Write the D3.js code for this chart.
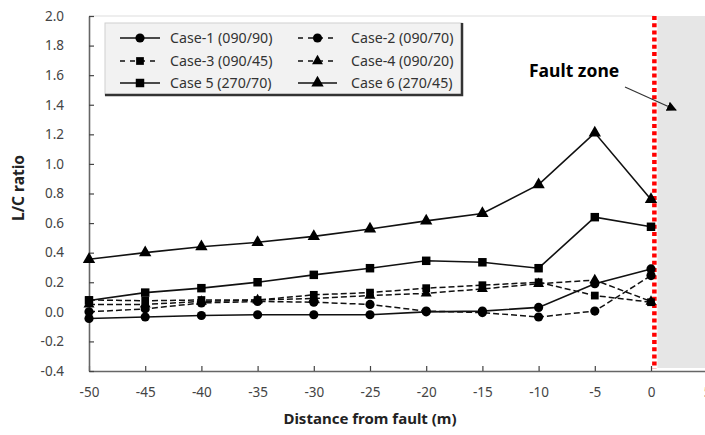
<!DOCTYPE html>
<html>
<head>
<meta charset="utf-8">
<script src="https://cdn.jsdelivr.net/npm/d3@7"></script>
<style>
  body { margin: 0; background: #fff; }
  text { font-family: "Noto Sans", "Open Sans", sans-serif; }
</style>
</head>
<body>
<div id="chart"></div>
<script>
// distances from the fault (m)
var distances = [-50, -45, -40, -35, -30, -25, -20, -15, -10, -5, 0];
var xTicks = [-50, -45, -40, -35, -30, -25, -20, -15, -10, -5, 0, 5];
var yTicks = [-0.4, -0.2, 0.0, 0.2, 0.4, 0.6, 0.8, 1.0, 1.2, 1.4, 1.6, 1.8, 2.0];

var caseNames = ["Case-1 (090/90)", "Case-2 (090/70)", "Case-3 (090/45)",
                 "Case-4 (090/20)", "Case 5 (270/70)", "Case 6 (270/45)"];
var case1 = [-0.045, -0.035, -0.025, -0.02, -0.02, -0.02, 0.00, 0.005, 0.03, 0.19, 0.29];
var case2 = [0.00, 0.02, 0.06, 0.07, 0.065, 0.05, 0.005, -0.005, -0.035, 0.005, 0.245];
var case3 = [0.08, 0.075, 0.08, 0.08, 0.115, 0.13, 0.16, 0.18, 0.20, 0.11, 0.065];
var case4 = [0.05, 0.05, 0.07, 0.08, 0.09, 0.11, 0.125, 0.155, 0.19, 0.215, 0.07];
var case5 = [0.077, 0.13, 0.16, 0.20, 0.25, 0.295, 0.345, 0.335, 0.295, 0.64, 0.575];
var case6 = [0.355, 0.40, 0.44, 0.47, 0.51, 0.56, 0.615, 0.665, 0.86, 1.21, 0.76];

var faultX = 0.3;

var allCases = [
  { name: caseNames[0], values: case1, symbol: d3.symbolCircle, size: 66, dashed: false },
  { name: caseNames[1], values: case2, symbol: d3.symbolCircle, size: 66, dashed: true },
  { name: caseNames[2], values: case3, symbol: d3.symbolSquare, size: 60, dashed: true },
  { name: caseNames[3], values: case4, symbol: d3.symbolTriangle, size: 52, dashed: true },
  { name: caseNames[4], values: case5, symbol: d3.symbolSquare, size: 72, dashed: false },
  { name: caseNames[5], values: case6, symbol: d3.symbolTriangle, size: 66, dashed: false }
];

var width = 705, height = 435;

var svg = d3.select("#chart")
  .append("svg")
  .attr("width", width)
  .attr("height", height);

var x = d3.scaleLinear().domain([-50, 5]).range([89, 707.2]);
var y = d3.scaleLinear().domain([-0.4, 2.0]).range([371, 16]);

// plain hyphen instead of the unicode minus
function hyphen(fmt) {
  var f = d3.format(fmt);
  return function(d) { return f(d).replace("\u2212", "-"); };
}

// fault zone shading
svg.append("rect")
  .attr("x", x(faultX) + 3)
  .attr("y", y(2.0))
  .attr("width", x(5) - x(faultX))
  .attr("height", y(-0.4) - y(2.0) - 3)
  .attr("fill", "#e6e6e6");

// top border of the plot area
svg.append("line")
  .attr("x1", x(-50)).attr("x2", x(faultX))
  .attr("y1", y(2.0)).attr("y2", y(2.0))
  .attr("stroke", "#e8e8e8")
  .attr("stroke-width", 1.5);

// axes
var xAxis = svg.append("g")
  .attr("transform", "translate(0," + y(-0.4) + ")")
  .call(d3.axisBottom(x).tickValues(xTicks).tickSizeInner(-5).tickSizeOuter(0).tickPadding(16)
    .tickFormat(hyphen("d")));

var yAxis = svg.append("g")
  .attr("transform", "translate(" + x(-50) + ",0)")
  .call(d3.axisLeft(y).tickValues(yTicks).tickSizeInner(-5).tickSizeOuter(0).tickPadding(25)
    .tickFormat(hyphen(".1f")));

[xAxis, yAxis].forEach(function(g) {
  g.select(".domain").attr("stroke", "#666").attr("stroke-width", 1.6);
  g.selectAll(".tick line").attr("stroke", "#444").attr("stroke-width", 1.2);
  g.selectAll(".tick text").attr("fill", "#444").attr("font-family", null).style("font-size", "13.5px");
});

// axis titles
svg.append("text")
  .attr("x", 370)
  .attr("y", 424)
  .attr("text-anchor", "middle")
  .style("font-size", "15px")
  .style("font-weight", "bold")
  .attr("fill", "#222")
  .text("Distance from fault (m)");

svg.append("text")
  .attr("transform", "translate(24,188) rotate(-90)")
  .attr("text-anchor", "middle")
  .style("font-size", "15.5px")
  .style("font-weight", "bold")
  .attr("fill", "#222")
  .text("L/C ratio");

// lines
var line = d3.line()
  .x(function(d, i) { return x(distances[i]); })
  .y(function(d) { return y(d); });

svg.append("g")
  .selectAll("path")
  .data(allCases)
  .enter()
  .append("path")
  .attr("d", function(d) { return line(d.values); })
  .attr("fill", "none")
  .attr("stroke", "#111")
  .attr("stroke-width", function(d) { return d.dashed ? 1.5 : 1.6; })
  .attr("stroke-dasharray", function(d) { return d.dashed ? "6,3" : null; });

// red dotted fault line
svg.append("line")
  .attr("x1", x(faultX)).attr("x2", x(faultX))
  .attr("y1", y(2.0)).attr("y2", y(-0.4) - 2)
  .attr("stroke", "#ff0000")
  .attr("stroke-width", 4.5)
  .attr("stroke-dasharray", "4,3.2");

// markers
allCases.forEach(function(c) {
  svg.append("g")
    .selectAll("path")
    .data(c.values)
    .enter()
    .append("path")
    .attr("transform", function(d, i) { return "translate(" + x(distances[i]) + "," + y(d) + ")"; })
    .attr("d", d3.symbol().type(c.symbol).size(c.size))
    .attr("fill", "#000");
});

// legend
var legend = svg.append("g").attr("transform", "translate(105,23)");
legend.append("rect")
  .attr("width", 357).attr("height", 72)
  .attr("fill", "#f2f2f2")
  .attr("stroke", "#d0d0d0")
  .attr("stroke-width", 1);
legend.append("path")
  .attr("d", "M357,0V72H0")
  .attr("fill", "none")
  .attr("stroke", "#333")
  .attr("stroke-width", 2.5);

var legendRows = [15, 38, 60];
var legendCols = [[15, 55, 65], [193, 232, 246]];

allCases.forEach(function(c, i) {
  var col = legendCols[i % 2];
  var row = legendRows[Math.floor(i / 2)];
  var item = legend.append("g");
  item.append("line")
    .attr("x1", col[0]).attr("x2", col[1])
    .attr("y1", row).attr("y2", row)
    .attr("stroke", "#111")
    .attr("stroke-width", 1.4)
    .attr("stroke-dasharray", c.dashed ? "5,5" : null);
  item.append("path")
    .attr("transform", "translate(" + (col[0] + col[1]) / 2 + "," + row + ")")
    .attr("d", d3.symbol().type(c.symbol).size(c.size))
    .attr("fill", "#000");
  item.append("text")
    .attr("x", col[2])
    .attr("y", row + 5)
    .attr("fill", "#333")
    .style("font-size", "14.2px")
    .text(c.name);
});

// fault zone annotation
svg.append("defs").append("marker")
  .attr("id", "arrowhead")
  .attr("viewBox", "0 0 10 10")
  .attr("refX", 9).attr("refY", 5)
  .attr("markerWidth", 10).attr("markerHeight", 10)
  .attr("markerUnits", "userSpaceOnUse")
  .attr("orient", "auto")
  .append("path")
  .attr("d", "M0,0L10,5L0,10Z")
  .attr("fill", "#000");

svg.append("line")
  .attr("x1", 625).attr("y1", 87)
  .attr("x2", 676).attr("y2", 110)
  .attr("stroke", "#333")
  .attr("stroke-width", 1.2)
  .attr("marker-end", "url(#arrowhead)");

svg.append("text")
  .attr("x", 529)
  .attr("y", 77)
  .style("font-size", "17.5px")
  .style("font-weight", "bold")
  .attr("fill", "#000")
  .text("Fault zone");
</script>
</body>
</html>
